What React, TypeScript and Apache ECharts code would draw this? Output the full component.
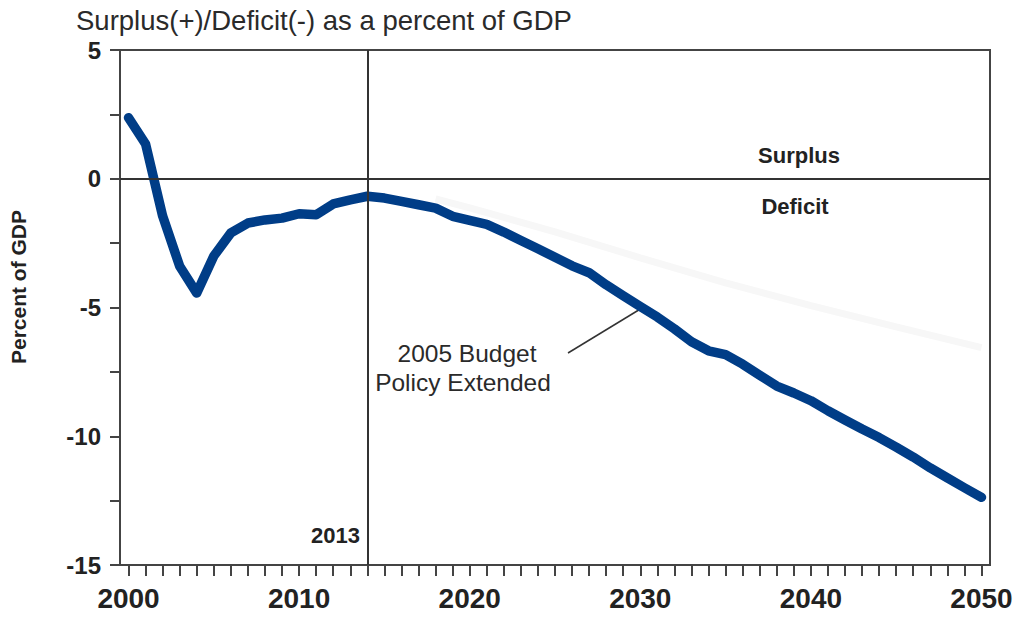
import React, { useEffect, useRef } from 'react';
import * as echarts from 'echarts';

const years = [
  '2000', '2001', '2002', '2003', '2004', '2005', '2006', '2007', '2008', '2009',
  '2010', '2011', '2012', '2013', '2014', '2015', '2016', '2017', '2018', '2019',
  '2020', '2021', '2022', '2023', '2024', '2025', '2026', '2027', '2028', '2029',
  '2030', '2031', '2032', '2033', '2034', '2035', '2036', '2037', '2038', '2039',
  '2040', '2041', '2042', '2043', '2044', '2045', '2046', '2047', '2048', '2049',
  '2050',
];

const labelYears = ['2000', '2010', '2020', '2030', '2040', '2050'];

// 2005 Budget Policy Extended, surplus(+)/deficit(-) as % of GDP
const deficit = [
  2.37, 1.35, -1.45, -3.4, -4.44, -3.0, -2.1, -1.72, -1.6, -1.53,
  -1.36, -1.4, -0.98, -0.82, -0.68, -0.75, -0.88, -1.01, -1.14, -1.46,
  -1.62, -1.77, -2.07, -2.4, -2.72, -3.05, -3.38, -3.65, -4.12, -4.54,
  -4.96, -5.37, -5.83, -6.33, -6.68, -6.83, -7.2, -7.63, -8.05, -8.32,
  -8.62, -9.01, -9.37, -9.72, -10.05, -10.42, -10.81, -11.23, -11.62, -12.0,
  -12.37,
];

// faint (ghosted) alternative projection visible in the background
const ghost = [
  null, null, null, null, null, null, null, null, null, null,
  null, null, null, null, null, null, null, null, -0.78, null,
  -1.13, null, null, null, null, -2.06, null, null, null, null,
  -3.07, null, null, null, null, -4.04, null, null, null, null,
  -4.93, null, null, null, null, -5.75, null, null, null, null,
  -6.56,
];

const markerYear = '2014';
const markerLabel = '2013';

const FONT = "'Liberation Sans', Arial, Helvetica, sans-serif";

export default function App() {
  const ref = useRef<HTMLDivElement>(null);

  useEffect(() => {
    if (!ref.current) return;
    const chart = echarts.init(ref.current, null, { renderer: 'svg' });
    const axisColor = '#444';
    chart.setOption({
      animation: false,
      backgroundColor: '#ffffff',
      textStyle: { fontFamily: FONT },
      title: {
        text: 'Surplus(+)/Deficit(-) as a percent of GDP',
        left: 71,
        top: 1,
        textStyle: { fontSize: 27.5, fontWeight: 'normal', color: '#2a2a2a', fontFamily: FONT },
      },
      grid: {
        left: 120,
        right: 32,
        top: 50,
        bottom: 57,
        show: true,
        borderColor: axisColor,
        borderWidth: 2,
        backgroundColor: 'transparent',
      },
      xAxis: {
        type: 'category',
        data: years,
        boundaryGap: true,
        axisLine: { show: true, onZero: false, lineStyle: { color: axisColor, width: 2 } },
        axisTick: {
          show: true,
          interval: 0,
          alignWithLabel: true,
          length: 11,
          lineStyle: { color: axisColor, width: 2 },
        },
        axisLabel: {
          interval: (_i: number, v: string) => labelYears.includes(v),
          margin: 19,
          fontSize: 28,
          fontWeight: 'bold',
          color: '#222',
          fontFamily: FONT,
        },
        splitLine: { show: false },
      },
      yAxis: {
        type: 'value',
        min: -15,
        max: 5,
        interval: 2.5,
        axisLine: { show: true, onZero: false, lineStyle: { color: axisColor, width: 2 } },
        axisTick: { show: true, length: 10, lineStyle: { color: axisColor, width: 2 } },
        axisLabel: {
          formatter: (v: number) => (v % 5 === 0 ? String(v) : ''),
          fontSize: 24,
          fontWeight: 'bold',
          color: '#222',
          margin: 19,
          fontFamily: FONT,
        },
        splitLine: { show: false },
      },
      series: [
        {
          name: 'ghost',
          type: 'line',
          data: ghost,
          connectNulls: true,
          showSymbol: false,
          symbol: 'none',
          silent: true,
          z: 1,
          lineStyle: { color: '#f7f7f7', width: 7 },
        },
        {
          name: '2005 Budget Policy Extended',
          type: 'line',
          data: deficit,
          showSymbol: false,
          symbol: 'none',
          z: 3,
          lineStyle: { color: '#003d87', width: 9.5, cap: 'round', join: 'round' },
          markLine: {
            silent: true,
            symbol: ['none', 'none'],
            label: { show: false },
            lineStyle: { color: '#333', width: 2, type: 'solid' },
            data: [{ yAxis: 0 }, { xAxis: markerYear }],
          },
        },
      ],
      graphic: [
        {
          type: 'text',
          x: 18,
          y: 287,
          rotation: Math.PI / 2,
          style: {
            text: 'Percent of GDP',
            fontSize: 21,
            fontWeight: 'bold',
            fill: '#222',
            fontFamily: FONT,
            align: 'center',
            verticalAlign: 'middle',
          },
        },
        {
          type: 'text',
          x: 799,
          y: 155,
          style: {
            text: 'Surplus',
            fontSize: 22,
            fontWeight: 'bold',
            fill: '#222',
            fontFamily: FONT,
            align: 'center',
            verticalAlign: 'middle',
          },
        },
        {
          type: 'text',
          x: 795,
          y: 206,
          style: {
            text: 'Deficit',
            fontSize: 22,
            fontWeight: 'bold',
            fill: '#222',
            fontFamily: FONT,
            align: 'center',
            verticalAlign: 'middle',
          },
        },
        {
          type: 'text',
          x: 360,
          y: 535,
          style: {
            text: markerLabel,
            fontSize: 22,
            fontWeight: 'bold',
            fill: '#222',
            fontFamily: FONT,
            align: 'right',
            verticalAlign: 'middle',
          },
        },
        {
          type: 'text',
          x: 467,
          y: 353,
          style: {
            text: '2005 Budget',
            fontSize: 24.5,
            fontWeight: 'normal',
            fill: '#2a2a2a',
            fontFamily: FONT,
            align: 'center',
            verticalAlign: 'middle',
          },
        },
        {
          type: 'text',
          x: 463,
          y: 382,
          style: {
            text: 'Policy Extended',
            fontSize: 24.5,
            fontWeight: 'normal',
            fill: '#2a2a2a',
            fontFamily: FONT,
            align: 'center',
            verticalAlign: 'middle',
          },
        },
        {
          type: 'line',
          shape: { x1: 568, y1: 353, x2: 642, y2: 308 },
          style: { stroke: '#333', lineWidth: 1.5 },
        },
      ],
    });
    return () => chart.dispose();
  }, []);

  return (
    <div
      ref={ref}
      style={{ position: 'fixed', left: 0, top: 0, width: 1022, height: 622, background: '#fff' }}
    />
  );
}
